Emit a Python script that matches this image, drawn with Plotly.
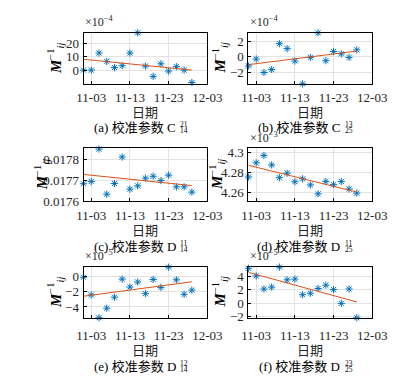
import numpy as np
import pandas as pd
import plotly.graph_objects as go

# ---------------- data ----------------
dates = ["11-01", "11-03", "11-05", "11-07", "11-09", "11-11", "11-13", "11-15",
         "11-17", "11-19", "11-21", "11-23", "11-25", "11-27", "11-29"]
tick_labels = ["11-03", "11-13", "11-23", "12-03"]

# values shown in the unit of each panel's exponent label
c14_21 = [0, 0, 12.8, 6.5, 1.9, 3.3, 12.8, 27.9, 3.0, -4.7, 4.7, -0.7, 2.6, 0, -9.3]          # x1e-4
c25_13 = [-1.17, -0.29, -2.0, -1.63, 1.67, 1.04, -0.54, -3.45, -0.08, 3.05, -0.5, 0.67, 0.38, -0.08, 0.88]  # x1e-4
d14_11 = [0.017683, 0.017694, 0.017849, 0.017633, 0.017684, 0.017811, 0.017657, 0.017673,
          0.017710, 0.017719, 0.017698, 0.017724, 0.017668, 0.017668, 0.017643]
d25_11 = [4.2756, 4.2898, 4.2971, 4.2876, 4.2749, 4.2794, 4.2708, 4.2737, 4.2676, 4.2587,
          4.2711, 4.2679, 4.2711, 4.2635, 4.2594]                                              # x1e-3
d14_12 = [-0.08, -2.42, -5.42, -4.17, -2.71, -0.33, -1.375, -0.71, -2.25, -0.375, -1.42, 1.25,
          -0.42, -2.33, -1.79]                                                                 # x1e-5
d25_23 = [5.17, 4.05, 2.12, 2.4, 5.35, 3.47, 3.58, 1.27, 1.5, 2.2, 2.68, 2.03, 0, 2.12, -2.12]  # x1e-5

panels = [
    dict(y=c14_21, exp="-4", letter="(a)", name="C", sup="21", sub="14", yr=[-10.3, 27.9], yt=[0, 10, 20], fmt=None),
    dict(y=c25_13, exp="-4", letter="(b)", name="C", sup="13", sub="25", yr=[-3.45, 3.05], yt=[-2, 0, 2], fmt=None),
    dict(y=d14_11, exp=None, letter="(c)", name="D", sup="11", sub="14", yr=[0.0176, 0.017852], yt=[0.0176, 0.0177, 0.0178], fmt=".4f"),
    dict(y=d25_11, exp="-3", letter="(d)", name="D", sup="11", sub="25", yr=[4.2514, 4.3042], yt=[4.26, 4.28, 4.30], fmt=None),
    dict(y=d14_12, exp="-5", letter="(e)", name="D", sup="12", sub="14", yr=[-5.45, 1.3], yt=[-4, -2, 0], fmt=None),
    dict(y=d25_23, exp="-5", letter="(f)", name="D", sup="23", sub="25", yr=[-2.15, 5.4], yt=[-2, 0, 2, 4], fmt=None),
]

# ---------------- layout helpers ----------------
W, H = 401, 384
def px(x):
    return x / W
def py(y):
    return 1 - y / H

col_x = [(72.5, 203.5), (247, 378)]
row_y = [(22.5, 75), (141.5, 195.7), (263.3, 316)]
row_standoff = [2, 2, 5]
row_xtitle = [103.5, 224.5, 348.5]
row_caption = [120, 242, 366]

SERIF = "Liberation Serif"
CJK = "Noto Sans CJK SC"
BLUE = "#0072BD"
RED = "#D95319"
TXT = "#262626"

x_dates = pd.to_datetime(["2000-" + d for d in dates])
tick_dates = pd.to_datetime(["2000-" + t for t in tick_labels])
x_num = (x_dates - x_dates[0]).days.values.astype(float)

fig = go.Figure()
annotations = []
layout_axes = {}

for i, p in enumerate(panels):
    r, c = divmod(i, 2)
    k = i + 1
    xs = "" if k == 1 else str(k)
    x0, x1 = col_x[c]
    yt0, yb0 = row_y[r]
    y = np.array(p["y"], dtype=float)
    coef = np.polyfit(x_num, y, 1)
    fit = np.polyval(coef, x_num[[0, -1]])

    fig.add_trace(go.Scatter(x=x_dates, y=y, mode="markers", xaxis="x" + xs, yaxis="y" + xs,
                             marker=dict(symbol="asterisk-open", size=6, color=BLUE,
                                         line=dict(color=BLUE, width=1)),
                             showlegend=False, cliponaxis=False))
    fig.add_trace(go.Scatter(x=x_dates[[0, -1]], y=fit, mode="lines", xaxis="x" + xs, yaxis="y" + xs,
                             line=dict(color=RED, width=1), showlegend=False))

    common = dict(showgrid=True, gridcolor="#E3E3E3", gridwidth=1,
                  showline=True, linecolor="black", linewidth=1, mirror=True,
                  ticks="inside", ticklen=3, tickcolor="black", zeroline=False)
    layout_axes["xaxis" + xs] = dict(
        domain=[px(x0), px(x1)], anchor="y" + xs,
        range=[pd.Timestamp("2000-11-01"), pd.Timestamp("2000-12-03")],
        tickvals=tick_dates, ticktext=tick_labels, ticklabelstandoff=row_standoff[r],
        tickfont=dict(family=SERIF, size=13, color=TXT), **common)
    layout_axes["yaxis" + xs] = dict(
        domain=[py(yb0), py(yt0)], anchor="x" + xs,
        range=p["yr"], tickvals=p["yt"],
        ticktext=[format(v, p["fmt"]) if p["fmt"] else ("%g" % v).replace("-", "−") for v in p["yt"]],
        ticklabelstandoff=1, tickfont=dict(family=SERIF, size=13, color=TXT), **common)

    cx = (x0 + x1) / 2
    # exponent label
    if p["exp"]:
        annotations.append(dict(x=px(x0 - 1), y=py(yt0 - 1.5), xref="paper", yref="paper",
                                xanchor="left", yanchor="bottom", showarrow=False,
                                text="×10<sup>" + p["exp"].replace("-", "−") + "</sup>",
                                font=dict(family=SERIF, size=12, color=TXT)))
    # y title
    ytx = {0: 43, 1: 217}[c] if i != 2 else 28
    if i == 3:
        ytx = 213
    annotations.append(dict(x=px(ytx), y=py((yt0 + yb0) / 2), xref="paper", yref="paper",
                            xanchor="center", yanchor="middle", showarrow=False, textangle=-90,
                            text="<b><i>M</i></b><sup>−1</sup><sub><i>ij</i></sub>",
                            font=dict(family=SERIF, size=15, color="black")))
    # x title
    annotations.append(dict(x=px(cx), y=py(row_xtitle[r]), xref="paper", yref="paper",
                            xanchor="center", yanchor="middle", showarrow=False,
                            text="日期", font=dict(family=CJK, size=13, color=TXT)))
    # caption
    annotations.append(dict(x=px(cx + 34), y=py(row_caption[r]), xref="paper", yref="paper",
                            xanchor="right", yanchor="middle", showarrow=False,
                            text=p["letter"] + " 校准参数 " + p["name"],
                            font=dict(family=SERIF + ", " + CJK, size=13, color="black")))
    annotations.append(dict(x=px(cx + 34.5), y=py(row_caption[r] - 3), xref="paper", yref="paper",
                            xanchor="left", yanchor="middle", showarrow=False,
                            text=p["sup"], font=dict(family=SERIF, size=7.5, color="black")))
    annotations.append(dict(x=px(cx + 34.5), y=py(row_caption[r] + 3.5), xref="paper", yref="paper",
                            xanchor="left", yanchor="middle", showarrow=False,
                            text=p["sub"], font=dict(family=SERIF, size=7.5, color="black")))

fig.update_layout(width=W, height=H, margin=dict(l=0, r=0, t=0, b=0),
                  plot_bgcolor="white", paper_bgcolor="white",
                  annotations=annotations, **layout_axes)
fig.write_html("out.html")
